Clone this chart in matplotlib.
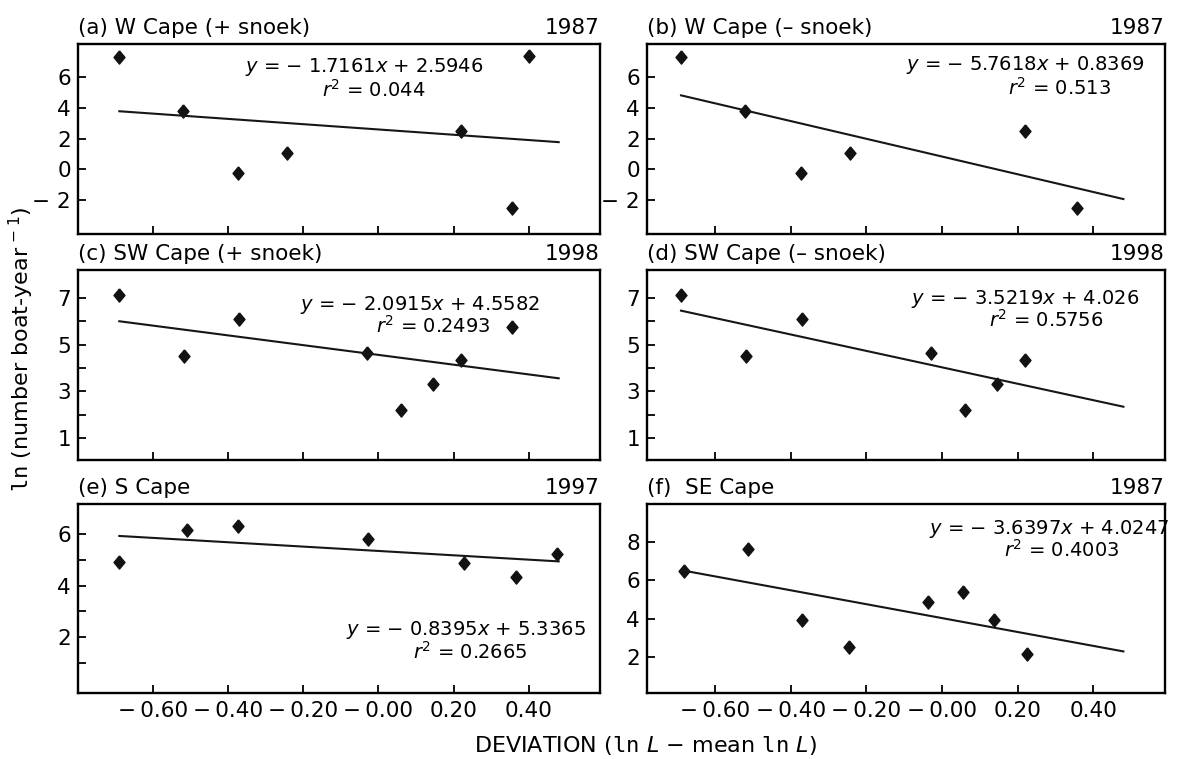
"""Six-panel regressions of ln catch rate against length deviation."""

import matplotlib

matplotlib.use("Agg")
import matplotlib.pyplot as plt
from matplotlib.transforms import ScaledTranslation

plt.rcParams["font.family"] = ["DejaVu Sans"]
plt.rcParams["mathtext.fontset"] = "custom"
plt.rcParams["mathtext.rm"] = "DejaVu Sans"
plt.rcParams["mathtext.it"] = "DejaVu Sans:italic"
plt.rcParams["mathtext.tt"] = "DejaVu Sans Mono"

# --- data ---
x_wcape = [-0.69, -0.52, -0.373, -0.244, 0.22, 0.357, 0.40]
y_wcape = [7.3, 3.8, -0.21, 1.05, 2.48, -2.5, 7.4]
x_swcape = [-0.69, -0.517, -0.371, -0.03, 0.061, 0.146, 0.219, 0.355]
y_swcape = [7.12, 4.52, 6.11, 4.62, 2.2, 3.3, 4.36, 5.76]
x_scape = [-0.69, -0.51, -0.375, -0.027, 0.228, 0.365, 0.475]
y_scape = [4.91, 6.15, 6.31, 5.8, 4.88, 4.32, 5.22]
x_secape = [-0.683, -0.513, -0.37, -0.246, -0.038, 0.057, 0.138, 0.224]
y_secape = [6.49, 7.65, 3.9, 2.52, 4.85, 5.37, 3.9, 2.13]

titles = ["(a) W Cape (+ snoek)", "(b) W Cape (\u2013 snoek)",
          "(c) SW Cape (+ snoek)", "(d) SW Cape (\u2013 snoek)",
          "(e) S Cape", "(f)  SE Cape"]
years = ["1987", "1987", "1998", "1998", "1997", "1987"]
slopes = [-1.7161, -5.7618, -2.0915, -3.5219, -0.8395, -3.6397]
intercepts = [2.5946, 0.8369, 4.5582, 4.026, 5.3365, 4.0247]
r2_labels = ["0.044", "0.513", "0.2493", "0.5756", "0.2665", "0.4003"]
slope_labels = ["1.7161", "5.7618", "2.0915", "3.5219", "0.8395", "3.6397"]
intercept_labels = ["2.5946", "0.8369", "4.5582", "4.026", "5.3365", "4.0247"]
fit_x = [-0.69, 0.48]

x_ticks = [-0.60, -0.40, -0.20, 0.00, 0.20, 0.40]
x_ticklabels = ["\u2212\u20090.60", "\u2212\u20090.40", "\u2212\u20090.20",
                "\u2212\u20090.00", "0.20", "0.40"]
y_ticks_wcape = [6, 4, 2, 0, -2]
y_ticklabels_wcape = ["6", "4", "2", "0", "\u2212 2"]
y_ticks_swcape = [7, 5, 3, 1]
y_minor_swcape = [6, 4, 2]
y_ticks_scape = [6, 4, 2]
y_minor_scape = [5, 3, 1]
y_ticks_secape = [8, 6, 4, 2]

panels = [
    (x_wcape, y_wcape, y_ticks_wcape, y_ticklabels_wcape, [], (-4.2, 8.15)),
    (x_wcape[:6], y_wcape[:6], y_ticks_wcape, y_ticklabels_wcape, [], (-4.2, 8.15)),
    (x_swcape, y_swcape, y_ticks_swcape, [str(v) for v in y_ticks_swcape], y_minor_swcape, (0.05, 8.2)),
    (x_swcape[:7], y_swcape[:7], y_ticks_swcape, [str(v) for v in y_ticks_swcape], y_minor_swcape, (0.05, 8.2)),
    (x_scape, y_scape, y_ticks_scape, [str(v) for v in y_ticks_scape], y_minor_scape, (-0.15, 7.15)),
    (x_secape, y_secape, y_ticks_secape, [str(v) for v in y_ticks_secape], [], (0.1, 10.0)),
]

# equation / r^2 text anchors (axes fraction)
eq_pos = [(0.548, 0.88), (0.73, 0.889), (0.655, 0.815), (0.73, 0.845), (0.743, 0.333), (0.777, 0.87)]
r2_pos = [(0.567, 0.758), (0.797, 0.767), (0.68, 0.708), (0.77, 0.74), (0.752, 0.217), (0.80, 0.76)]

W, H = 1177, 759
col_x = [(78, 600), (647, 1165)]
row_y = [(44, 234), (270, 460), (504, 693)]

diamond = [(0, 1), (0.83, 0), (0, -1), (-0.83, 0), (0, 1)]

fig = plt.figure(figsize=(W / 100, H / 100), dpi=100)
# nudge negative x labels left so the number, not the minus sign, sits under the tick
nudge = ScaledTranslation(-4.5 / 72, 0, fig.dpi_scale_trans)

for i, (xs, ys, yt, ytl, ymin, ylim) in enumerate(panels):
    r, c = divmod(i, 2)
    x0, x1 = col_x[c]
    t, b = row_y[r]
    ax = fig.add_axes([x0 / W, (H - b) / H, (x1 - x0) / W, (b - t) / H])
    ax.plot(xs, ys, linestyle="none", marker=diamond, markersize=9.5, color="#121212")
    fy = [slopes[i] * v + intercepts[i] for v in fit_x]
    ax.plot(fit_x, fy, color="#161616", linewidth=1.5)
    ax.set_xlim(-0.80 if c == 0 else -0.78, 0.59)
    ax.set_ylim(*ylim)
    ax.set_xticks(x_ticks)
    if r == 2:
        ax.set_xticklabels(x_ticklabels)
        for lab in ax.get_xticklabels():
            if lab.get_text().startswith("\u2212"):
                lab.set_transform(lab.get_transform() + nudge)
    else:
        ax.set_xticklabels([])
    ax.set_yticks(yt)
    ax.set_yticklabels(ytl)
    if ymin:
        ax.set_yticks(ymin, minor=True)
    ax.tick_params(which="both", direction="in", length=6, width=1.3, labelsize=15.5)
    ax.tick_params(axis="x", pad=6)
    ax.tick_params(axis="y", pad=5)
    for sp in ax.spines.values():
        sp.set_linewidth(1.7)
    ax.set_title(titles[i], loc="left", fontsize=15.5, pad=7)
    ax.set_title(years[i], loc="right", fontsize=15.5, pad=7)
    ax.text(*eq_pos[i], f"$y$ = \u2212 {slope_labels[i]}$x$ + {intercept_labels[i]}",
            transform=ax.transAxes, ha="center", va="center", fontsize=14)
    ax.text(*r2_pos[i], f"$r^{{2}}$ = {r2_labels[i]}",
            transform=ax.transAxes, ha="center", va="center", fontsize=14)

fig.text(0.018, 0.54, "$\\mathtt{ln}$ (number boat-year$^{\\,-1}$)",
         rotation=90, ha="center", va="center", fontsize=16)
fig.text(0.548, 0.018, "DEVIATION ($\\mathtt{ln}\\ L$ \u2212 mean $\\mathtt{ln}\\ L$)",
         ha="center", va="center", fontsize=16)

fig.savefig("out.png", dpi=100)
